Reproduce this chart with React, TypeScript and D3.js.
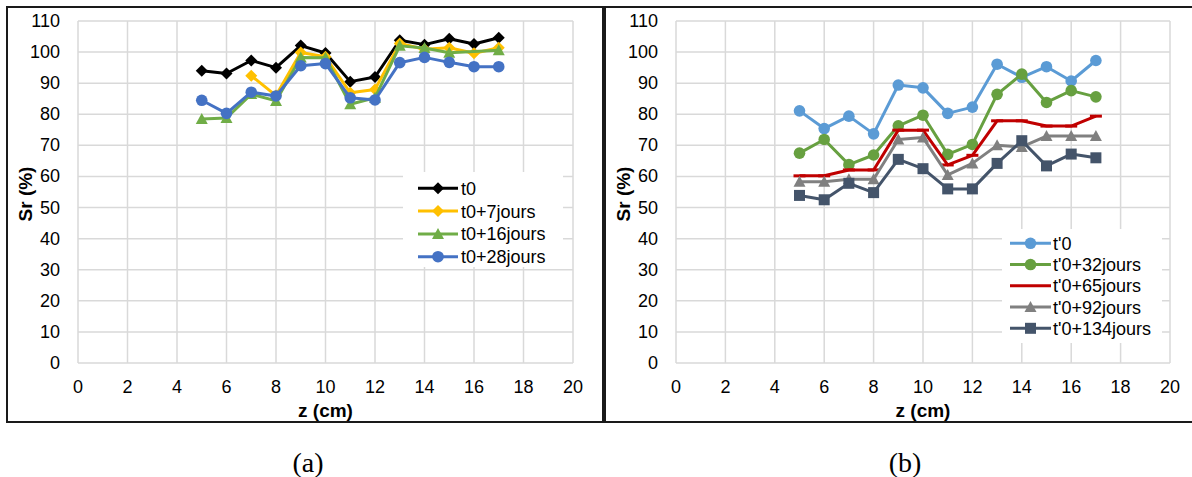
import React from "react";
import * as d3 from "d3";

const zValues = [5, 6, 7, 8, 9, 10, 11, 12, 13, 14, 15, 16, 17];
const xTicks = [0, 2, 4, 6, 8, 10, 12, 14, 16, 18, 20];
const yTicks = [0, 10, 20, 30, 40, 50, 60, 70, 80, 90, 100, 110];

const aT0 = [94.0, 93.1, 97.3, 95.0, 102.1, 99.7, 90.5, 92.0, 103.8, 102.4, 104.3, 102.6, 104.6];
const aT7 = [null, null, 92.4, 86.0, 99.9, 98.5, 86.9, 88.0, 102.8, 100.9, 101.4, 99.6, 101.4];
const aT16 = [78.5, 78.8, 86.5, 84.3, 98.3, 98.2, 83.2, 85.3, 102.0, 101.3, 99.8, null, 100.6];
const aT28 = [84.5, 80.3, 87.1, 85.9, 95.6, 96.3, 85.3, 84.6, 96.6, 98.3, 96.7, 95.3, 95.3];

const bT0 = [81.1, 75.4, 79.4, 73.7, 89.4, 88.5, 80.3, 82.3, 96.1, 91.9, 95.3, 90.7, 97.3];
const bT32 = [67.5, 71.9, 63.8, 66.9, 76.3, 79.7, 67.1, 70.3, 86.4, 92.9, 83.8, 87.6, 85.6];
const bT65 = [60.2, 60.2, 62.1, 62.1, 74.9, 74.9, 63.7, 66.8, 77.9, 77.9, 76.2, 76.2, 79.4];
const bT92 = [58.3, 58.3, 59.1, 59.1, 71.9, 72.5, 60.5, 64.2, 70.0, 69.5, 73.0, 73.0, 73.0];
const bT134 = [53.9, 52.5, 57.8, 54.8, 65.5, 62.5, 56.0, 56.0, 64.2, 71.5, 63.4, 67.2, 66.0];

const seriesA = [
  { name: "t0", values: aT0, color: "#000000", marker: "diamond" },
  { name: "t0+7jours", values: aT7, color: "#FFC000", marker: "diamond" },
  { name: "t0+16jours", values: aT16, color: "#70AD47", marker: "triangle" },
  { name: "t0+28jours", values: aT28, color: "#4472C4", marker: "circle" },
];
const seriesB = [
  { name: "t'0", values: bT0, color: "#5B9BD5", marker: "circle" },
  { name: "t'0+32jours", values: bT32, color: "#67A040", marker: "circle" },
  { name: "t'0+65jours", values: bT65, color: "#C00000", marker: "dash" },
  { name: "t'0+92jours", values: bT92, color: "#808080", marker: "triangle" },
  { name: "t'0+134jours", values: bT134, color: "#44546A", marker: "square" },
];

const FONT = "'Liberation Sans', Arial, sans-serif";

function Marker({ type, x, y, color, legend }: any) {
  if (type === "diamond") {
    const s = 6;
    return <path d={`M${x},${y - s}L${x + s},${y}L${x},${y + s}L${x - s},${y}Z`} fill={color} />;
  }
  if (type === "circle") return <circle cx={x} cy={y} r={5.8} fill={color} />;
  if (type === "triangle") {
    const s = 6;
    return <path d={`M${x},${y - s}L${x + s},${y + s - 1}L${x - s},${y + s - 1}Z`} fill={color} />;
  }
  if (type === "square") return <rect x={x - 5.5} y={y - 5.5} width={11} height={11} fill={color} />;
  if (type === "dash") {
    if (legend) return null;
    return <rect x={x - 6} y={y - 1.5} width={12} height={3} fill={color} />;
  }
  return null;
}

function Panel({ frame, plot, series, legend, caption }: any) {
  const x = d3.scaleLinear().domain([0, 20]).range([plot.x0, plot.x1]);
  const y = d3.scaleLinear().domain([0, 110]).range([plot.y1, plot.y0]);
  const line = d3
    .line<any>()
    .x((d) => x(d.z))
    .y((d) => y(d.v));
  const midX = (plot.x0 + plot.x1) / 2;
  return (
    <g>
      <rect x={frame.x0} y={frame.y0} width={frame.x1 - frame.x0} height={frame.y1 - frame.y0} fill="white" stroke="#1a1a1a" strokeWidth={2} />
      {xTicks.map((t) => (
        <line key={"gx" + t} x1={x(t)} x2={x(t)} y1={y(0)} y2={y(110)} stroke="#D9D9D9" strokeWidth={1.5} />
      ))}
      {yTicks.map((t) => (
        <line key={"gy" + t} x1={x(0)} x2={x(20)} y1={y(t)} y2={y(t)} stroke="#D9D9D9" strokeWidth={1.5} />
      ))}
      {yTicks.map((t) => (
        <text key={"ty" + t} x={plot.x0 - 18} y={y(t) + 6} textAnchor="end" fontFamily={FONT} fontSize={18} fill="#000">
          {t}
        </text>
      ))}
      {xTicks.map((t) => (
        <text key={"tx" + t} x={x(t)} y={393} textAnchor="middle" fontFamily={FONT} fontSize={18} fill="#000">
          {t}
        </text>
      ))}
      <text x={midX} y={417} textAnchor="middle" fontFamily={FONT} fontSize={19} fontWeight="bold">
        z (cm)
      </text>
      <text
        transform={`translate(${frame.x0 + 25},${(plot.y0 + plot.y1) / 2 + 2}) rotate(-90)`}
        textAnchor="middle"
        fontFamily={FONT}
        fontSize={19}
        fontWeight="bold"
      >
        Sr (%)
      </text>
      {series.map((s: any) => {
        const pts = zValues.map((z, i) => ({ z, v: s.values[i] })).filter((d) => d.v != null);
        return (
          <g key={s.name}>
            <path d={line(pts) || ""} fill="none" stroke={s.color} strokeWidth={3} strokeLinejoin="round" />
            {pts.map((d, i) => (
              <Marker key={i} type={s.marker} x={x(d.z)} y={y(d.v)} color={s.color} />
            ))}
          </g>
        );
      })}
      <rect x={legend.bx0} y={legend.by0} width={legend.bx1 - legend.bx0} height={legend.by1 - legend.by0} fill="white" />
      {series.map((s: any, i: number) => {
        const ly = legend.y0 + i * legend.dy;
        return (
          <g key={"lg" + s.name}>
            <line x1={legend.lx0} x2={legend.lx1} y1={ly} y2={ly} stroke={s.color} strokeWidth={3} />
            <Marker type={s.marker} x={(legend.lx0 + legend.lx1) / 2} y={ly} color={s.color} legend />
            <text x={legend.tx} y={ly + 6.5} fontFamily={FONT} fontSize={18} fill="#000">
              {s.name}
            </text>
          </g>
        );
      })}
      <text x={caption.x} y={472} textAnchor="middle" fontFamily="'Liberation Serif', 'Times New Roman', serif" fontSize={28}>
        {caption.text}
      </text>
    </g>
  );
}

export default function App() {
  return (
    <svg width={1192} height={477} style={{ position: "absolute", left: 0, top: 0, background: "white" }}>
      <rect x={0} y={0} width={1192} height={477} fill="white" />
      <Panel
        frame={{ x0: 7, y0: 7, x1: 603, y1: 422 }}
        plot={{ x0: 78, x1: 573, y0: 21, y1: 363 }}
        series={seriesA}
        legend={{ bx0: 403, bx1: 563, by0: 172, by1: 267, y0: 188.3, dy: 22.8, lx0: 418, lx1: 458, tx: 461 }}
        caption={{ x: 308, text: "(a)" }}
      />
      <Panel
        frame={{ x0: 605, y0: 7, x1: 1200, y1: 422 }}
        plot={{ x0: 676, x1: 1170, y0: 21, y1: 363 }}
        series={seriesB}
        legend={{ bx0: 1002, bx1: 1162, by0: 229, by1: 343, y0: 243.3, dy: 21.25, lx0: 1010, lx1: 1051, tx: 1053 }}
        caption={{ x: 905, text: "(b)" }}
      />
    </svg>
  );
}
